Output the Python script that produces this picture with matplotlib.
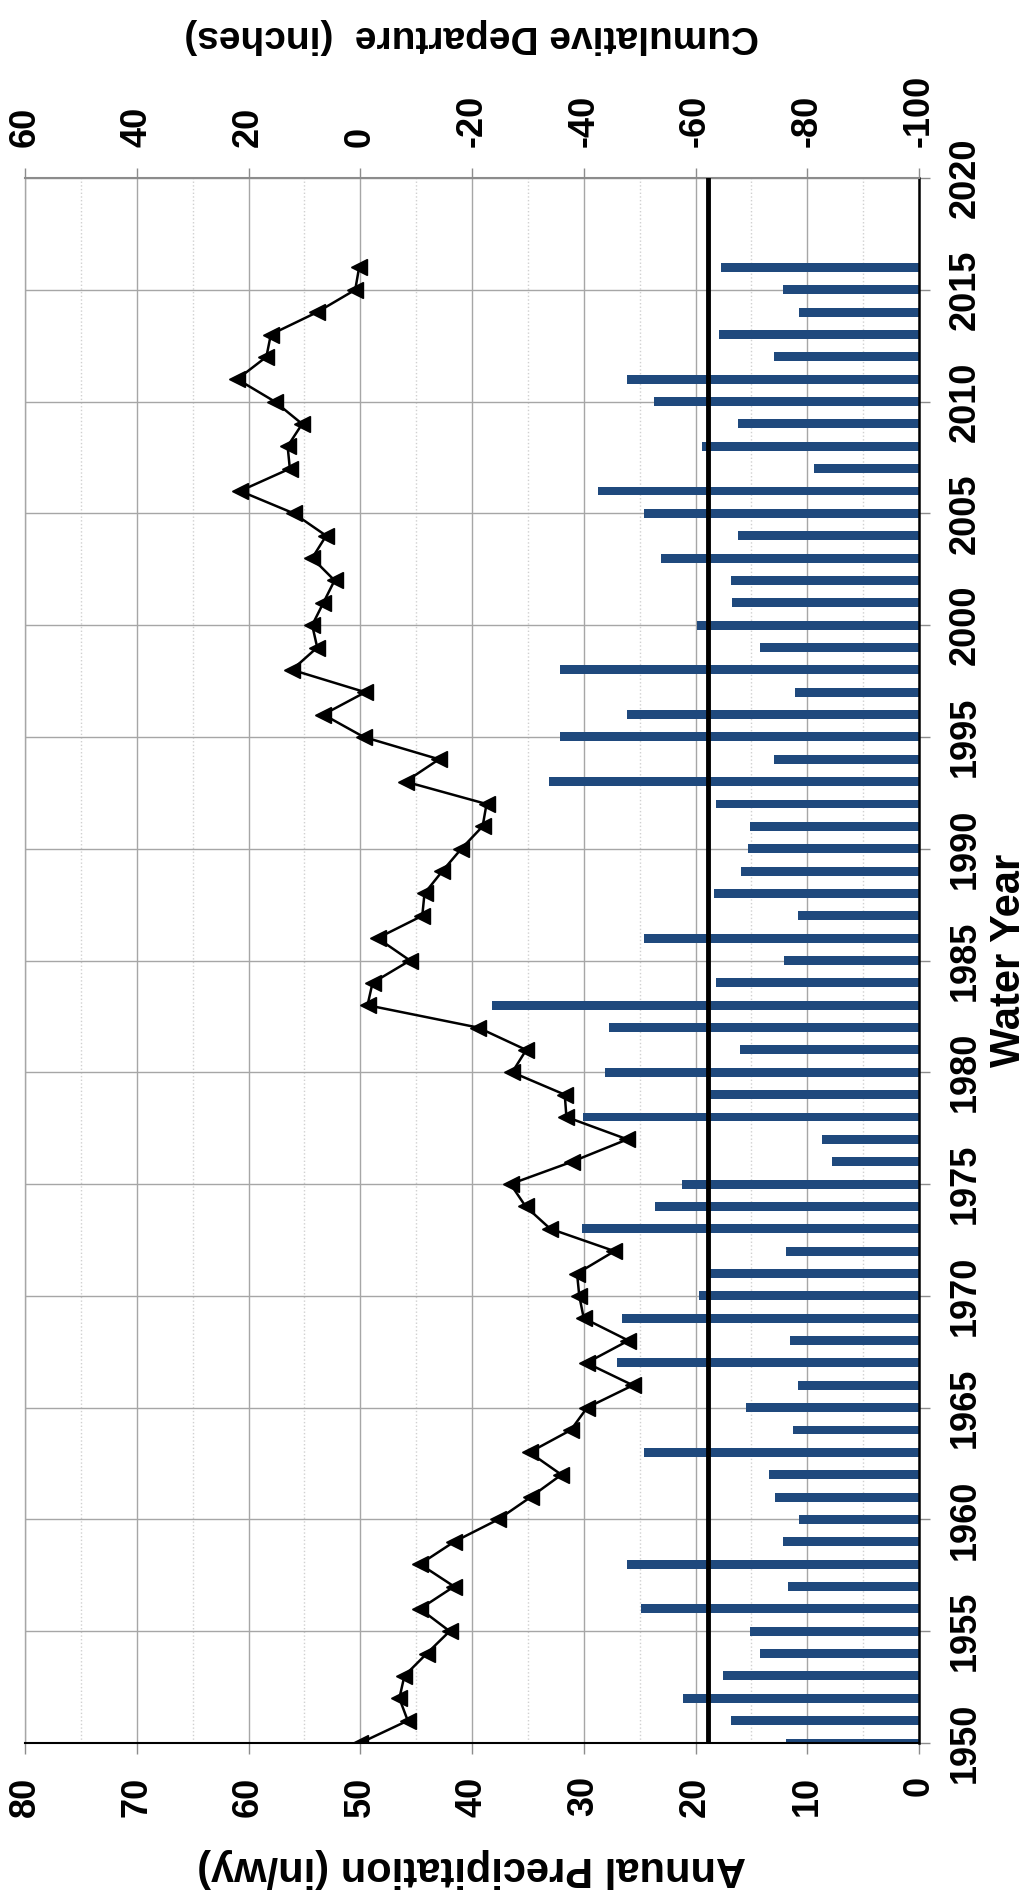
import matplotlib
matplotlib.use("Agg")
import matplotlib.pyplot as plt

plt.rcParams['font.family'] = ['Liberation Sans', 'DejaVu Sans']
plt.rcParams['font.weight'] = 'bold'
plt.rcParams['axes.unicode_minus'] = False

# water years shown in the chart
years = list(range(1950, 2017))

# annual precipitation (in/wy)
precip = [11.9, 16.8, 21.1, 17.5, 14.2, 15.1, 24.9, 11.7, 26.1, 12.2,
          10.7, 12.9, 13.4, 24.6, 11.3, 15.5, 10.8, 27.0, 11.5, 26.6,
          19.7, 18.8, 11.9, 30.2, 23.6, 21.2, 7.8, 8.7, 30.1, 18.8,
          28.1, 16.0, 27.7, 38.2, 18.2, 12.1, 24.6, 10.8, 18.3, 15.9,
          15.3, 15.1, 18.2, 33.1, 13.0, 32.1, 26.1, 11.1, 32.1, 14.2,
          19.9, 16.7, 16.8, 23.1, 16.2, 24.6, 28.7, 9.4, 19.4, 16.2,
          23.7, 26.1, 13.0, 17.9, 10.7, 12.2, 17.7]

# cumulative departure from mean (inches)
cum_departure = [0.0, -8.5, -7.0, -7.9, -11.9, -16.0, -10.7, -16.8, -10.7, -16.8,
                 -24.7, -30.5, -36.0, -30.3, -37.7, -40.6, -48.8, -40.5, -48.0, -40.0,
                 -39.2, -38.8, -45.5, -34.0, -29.6, -26.9, -37.9, -47.8, -36.9, -36.6,
                 -27.2, -29.7, -21.1, -1.3, -2.2, -8.9, -3.1, -11.1, -11.5, -14.7,
                 -18.1, -21.9, -22.6, -8.1, -14.1, -0.6, 6.6, -0.9, 12.2, 7.7,
                 8.6, 6.6, 4.6, 8.6, 6.1, 11.9, 21.5, 12.6, 13.0, 10.4,
                 15.3, 22.0, 16.8, 16.0, 7.7, 0.9, 0.2]

mean_precip = 18.9

precip_ticks = list(range(0, 81, 10))
cum_ticks = list(range(-100, 61, 20))
year_ticks = list(range(1950, 2021, 5))

W, H = 1031, 1896
fig = plt.figure(figsize=(W / 100, H / 100), dpi=100)
ax = fig.add_axes([25 / W, (H - 1743) / H, 894 / W, (1743 - 178) / H])

# precipitation bars (horizontal since the chart is turned on its side)
ax.barh(years, precip, height=0.4, color='#1F497D', zorder=2)
ax.axvline(mean_precip, color='black', lw=3.5, zorder=3)

ax.set_xlim(80, 0)
ax.set_ylim(1950, 2020)
ax.set_xticks(precip_ticks, labels=[str(v) for v in precip_ticks],
              rotation=90, fontsize=26, fontweight='bold')
ax.set_xticks(range(5, 80, 10), minor=True)
ax.yaxis.tick_right()
ax.set_yticks(year_ticks, labels=[str(v) for v in year_ticks],
              rotation=90, va='center', fontsize=26, fontweight='bold')

ax.tick_params(axis='x', which='major', direction='out', length=8, width=1,
               color='#8c8c8c', pad=16)
ax.tick_params(axis='x', which='minor', length=0)
ax.tick_params(axis='y', which='major', direction='out', length=8, width=1,
               color='#8c8c8c', pad=13)

ax.grid(axis='x', which='major', color='#a6a6a6', lw=1)
ax.grid(axis='x', which='minor', color='#d0d0d0', lw=1, ls=':')
ax.grid(axis='y', which='major', color='#a6a6a6', lw=1)
ax.set_axisbelow(True)

ax.spines['bottom'].set_color('black')
ax.spines['bottom'].set_linewidth(1.5)
ax.spines['right'].set_color('black')
ax.spines['right'].set_linewidth(1.8)
ax.spines['top'].set_color('#8c8c8c')
ax.spines['top'].set_linewidth(1.5)
ax.spines['left'].set_color('#a6a6a6')
ax.spines['left'].set_linewidth(1)

# cumulative departure on the secondary axis
ax2 = ax.twiny()
ax2.set_xlim(60, -100)
ax2.plot(cum_departure, years, color='black', lw=1.8, marker='<', ms=11,
         mfc='black', mec='black', zorder=4)
ax2.set_xticks(cum_ticks, labels=[str(v) for v in cum_ticks],
               rotation=90, fontsize=26, fontweight='bold')
ax2.tick_params(axis='x', direction='out', length=7, width=1,
                color='#8c8c8c', pad=15)
for s in ax2.spines.values():
    s.set_visible(False)

fig.text(472 / W, 1 - 36 / H, 'Cumulative Departure  (inches)', rotation=180,
         ha='center', va='center', fontsize=28, fontweight='bold')
fig.text(472 / W, 1 - 1868 / H, 'Annual Precipitation (in/wy)', rotation=180,
         ha='center', va='center', fontsize=30, fontweight='bold')
fig.text(1009 / W, 1 - 960 / H, 'Water Year', rotation=90,
         ha='center', va='center', fontsize=30, fontweight='bold')

fig.savefig('out.png', dpi=100)
